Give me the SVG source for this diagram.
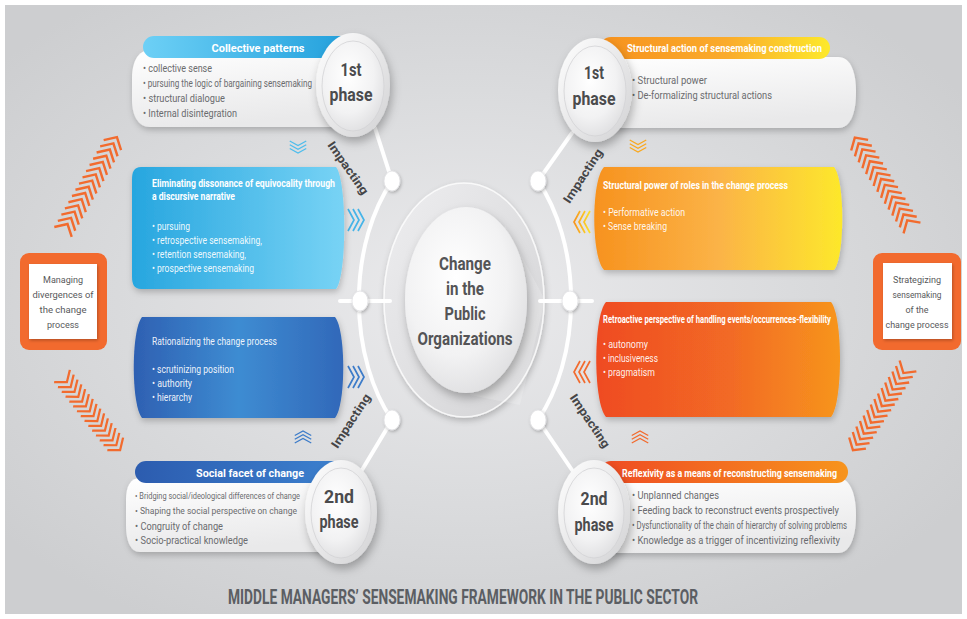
<svg xmlns="http://www.w3.org/2000/svg" width="967" height="619" viewBox="0 0 967 619">
  <defs>
    <radialGradient id="bg" cx="0.48" cy="0.48" r="0.62">
      <stop offset="0" stop-color="#ebebed"/>
      <stop offset="0.55" stop-color="#dadbdd"/>
      <stop offset="1" stop-color="#cdced0"/>
    </radialGradient>
    <linearGradient id="gCollective" x1="0" y1="0" x2="1" y2="0">
      <stop offset="0" stop-color="#6dd0f6"/>
      <stop offset="1" stop-color="#1f9edb"/>
    </linearGradient>
    <linearGradient id="gElim" x1="0" y1="0" x2="1" y2="0">
      <stop offset="0" stop-color="#27a6df"/>
      <stop offset="1" stop-color="#78d3f5"/>
    </linearGradient>
    <linearGradient id="gRat" x1="0" y1="0" x2="1" y2="0">
      <stop offset="0" stop-color="#2e60b2"/>
      <stop offset="0.5" stop-color="#3e8cd2"/>
      <stop offset="1" stop-color="#3168b9"/>
    </linearGradient>
    <linearGradient id="gSocial" x1="0" y1="0" x2="1" y2="0">
      <stop offset="0" stop-color="#2c5caf"/>
      <stop offset="1" stop-color="#3d82d0"/>
    </linearGradient>
    <linearGradient id="gStructAct" x1="0" y1="0" x2="1" y2="0">
      <stop offset="0" stop-color="#f7921e"/>
      <stop offset="0.55" stop-color="#faab2c"/>
      <stop offset="1" stop-color="#fde92b"/>
    </linearGradient>
    <linearGradient id="gStructPow" x1="0" y1="0" x2="1" y2="0">
      <stop offset="0" stop-color="#f7921e"/>
      <stop offset="0.5" stop-color="#fbb347"/>
      <stop offset="1" stop-color="#fde82b"/>
    </linearGradient>
    <linearGradient id="gRetro" x1="0" y1="0" x2="1" y2="0">
      <stop offset="0" stop-color="#ef4b23"/>
      <stop offset="0.55" stop-color="#f26a25"/>
      <stop offset="1" stop-color="#f7951d"/>
    </linearGradient>
    <linearGradient id="gReflex" x1="0" y1="0" x2="1" y2="0">
      <stop offset="0" stop-color="#ef4b23"/>
      <stop offset="1" stop-color="#f7941d"/>
    </linearGradient>
    <linearGradient id="gCard" x1="0" y1="0" x2="0.3" y2="1">
      <stop offset="0" stop-color="#ffffff"/>
      <stop offset="1" stop-color="#e9e9ea"/>
    </linearGradient>
    <radialGradient id="gDisk" cx="0.42" cy="0.38" r="0.7">
      <stop offset="0" stop-color="#ffffff"/>
      <stop offset="0.6" stop-color="#f2f2f3"/>
      <stop offset="1" stop-color="#dcdcde"/>
    </radialGradient>
    <linearGradient id="gRim" x1="0" y1="0" x2="1" y2="1">
      <stop offset="0" stop-color="#ffffff"/>
      <stop offset="1" stop-color="#d2d2d4"/>
    </linearGradient>
    <linearGradient id="gMid" x1="0" y1="0" x2="1" y2="1">
      <stop offset="0" stop-color="#eeeef0"/>
      <stop offset="1" stop-color="#d2d2d4"/>
    </linearGradient>
    <linearGradient id="gChevY" x1="0" y1="0" x2="1" y2="0">
      <stop offset="0" stop-color="#fde02b"/>
      <stop offset="1" stop-color="#f7941d"/>
    </linearGradient>
    <filter id="sh" x="-15%" y="-20%" width="130%" height="150%">
      <feDropShadow dx="1" dy="3" stdDeviation="3" flood-color="#000" flood-opacity="0.22"/>
    </filter>
    <filter id="shc" x="-40%" y="-30%" width="180%" height="170%">
      <feDropShadow dx="2" dy="5" stdDeviation="5" flood-color="#000" flood-opacity="0.28"/>
    </filter>
    <filter id="shs" x="-50%" y="-50%" width="200%" height="200%">
      <feDropShadow dx="1" dy="1.5" stdDeviation="1.5" flood-color="#000" flood-opacity="0.25"/>
    </filter>
    <!-- herringbone band, pointing along +x -->
    <path id="band" fill="none" stroke="#f26b2e" stroke-width="2.4"
      d="M0,-10L9,0L0,10M7,-10L16,0L7,10M14,-10L23,0L14,10M21,-10L30,0L21,10M28,-10L37,0L28,10M35,-10L44,0L35,10M42,-10L51,0L42,10M49,-10L58,0L49,10M56,-10L65,0L56,10M63,-10L72,0L63,10M70,-10L79,0L70,10M77,-10L86,0L77,10M84,-10L93,0L84,10M91,-10L100,0L91,10M98,-10L107,0L98,10"/>
    <!-- triple chevron, pointing along +x, centred on origin -->
    <path id="chev" fill="none" stroke-width="1.7"
      d="M-8,-11L-2,0L-8,11M-3,-11L3,0L-3,11M2,-11L8,0L2,11"/>
  </defs>
  <style>
    text { font-family: Roboto, "Liberation Sans", Arial, sans-serif; }
    .body { font-size: 10.5px; fill: #6a6b6e; }
    .sbody { font-size: 9.5px; fill: #6a6b6e; }
    .wbody { font-size: 10.5px; fill: #ffffff; fill-opacity: 0.92; }
    .title { font-size: 11.5px; font-weight: 700; fill: #ffffff; }
    .phase { font-size: 19px; font-weight: 700; fill: #4b4b4d; text-anchor: middle; }
    .center { font-size: 19px; font-weight: 700; fill: #545456; text-anchor: middle; }
    .imp { font-size: 12px; font-weight: 700; fill: #454547; text-anchor: middle; }
    .side { font-size: 9.5px; fill: #58595b; text-anchor: middle; }
    .foot { font-size: 21px; font-weight: 700; fill: #5b5e63; text-anchor: middle; }
    .card { fill: url(#gCard); filter: url(#sh); }
    .ring { fill: none; stroke: #ffffff; stroke-width: 4; stroke-linecap: round; }
    .dot { fill: #ffffff; stroke: #e2e2e4; stroke-width: 0.8; filter: url(#shs); }
  </style>

  <!-- backdrop -->
  <rect x="0" y="0" width="967" height="619" fill="#ffffff"/>
  <rect x="5" y="5" width="957" height="609" fill="url(#bg)"/>

  <!-- central hub -->
  <g id="hub">
    <ellipse cx="464" cy="300" rx="80" ry="117" fill="url(#gMid)" stroke="#ffffff" stroke-opacity="0.8" stroke-width="1.5" filter="url(#sh)"/>
    <path d="M505,225 L545,300 L520,405 L470,395 Z" fill="#ffffff" fill-opacity="0.18"/>
    <ellipse cx="466" cy="300" rx="61" ry="93" fill="url(#gDisk)" filter="url(#shc)"/>
    <text class="center" x="465" y="270" textLength="52" lengthAdjust="spacingAndGlyphs">Change</text>
    <text class="center" x="465" y="295" textLength="38" lengthAdjust="spacingAndGlyphs">in the</text>
    <text class="center" x="465" y="320" textLength="41" lengthAdjust="spacingAndGlyphs">Public</text>
    <text class="center" x="465" y="345" textLength="95" lengthAdjust="spacingAndGlyphs">Organizations</text>
  </g>

  <!-- connectors: ring arcs, spokes and joints -->
  <g id="connectors">
    <path class="ring" d="M375,128 L392,181 A105,164 0 0,0 392,420 L362,470"/>
    <path class="ring" d="M572,133 L538,181 A105,164 0 0,1 538,420 L572,470"/>
    <path class="ring" d="M340,301 H390"/>
    <path class="ring" d="M540,301 H592"/>
    <ellipse class="dot" cx="392" cy="181" rx="8" ry="10"/>
    <ellipse class="dot" cx="538" cy="181" rx="8" ry="10"/>
    <ellipse class="dot" cx="360" cy="301" rx="8" ry="10"/>
    <ellipse class="dot" cx="570" cy="301" rx="8" ry="10"/>
    <ellipse class="dot" cx="392" cy="420" rx="8" ry="10"/>
    <ellipse class="dot" cx="538" cy="420" rx="8" ry="10"/>
    <text class="imp" transform="translate(348,168) rotate(55)" y="4" textLength="62" lengthAdjust="spacingAndGlyphs">Impacting</text>
    <text class="imp" transform="translate(583,176) rotate(-57)" y="4" textLength="62" lengthAdjust="spacingAndGlyphs">Impacting</text>
    <text class="imp" transform="translate(351,421) rotate(-57)" y="4" textLength="62" lengthAdjust="spacingAndGlyphs">Impacting</text>
    <text class="imp" transform="translate(590,421) rotate(56)" y="4" textLength="62" lengthAdjust="spacingAndGlyphs">Impacting</text>

    <!-- small chevrons -->
    <use href="#chev" stroke="#4fbdec" transform="translate(298,147) rotate(90) scale(0.75)"/>
    <use href="#chev" stroke="#46b4e8" transform="translate(356,220)"/>
    <use href="#chev" stroke="#3d7cc9" transform="translate(356,377)"/>
    <use href="#chev" stroke="#3d7cc9" transform="translate(303,437) rotate(-90) scale(0.75)"/>
    <use href="#chev" stroke="#f9a81f" transform="translate(638,146) rotate(90) scale(0.75)"/>
    <use href="#chev" stroke="url(#gChevY)" transform="translate(582,222) rotate(180)"/>
    <use href="#chev" stroke="#f26b2e" transform="translate(582,372) rotate(180)"/>
    <use href="#chev" stroke="#f26b2e" transform="translate(640,437) rotate(-90) scale(0.75)"/>

    <!-- herringbone arrows -->
    <use href="#band" transform="translate(63,232) rotate(-60.4) scale(1.02,1)"/>
    <use href="#band" transform="translate(62,376) rotate(51.9) scale(0.88,1)"/>
    <use href="#band" transform="translate(912,228) rotate(-122.3)"/>
    <use href="#band" transform="translate(908,366) rotate(123.2) scale(0.94,1)"/>
  </g>

  <!-- side boxes -->
  <g id="managing-divergences">
    <rect x="20" y="253" width="87" height="97" rx="9" fill="#f26a2e"/>
    <rect x="29" y="264" width="68" height="75" fill="#ffffff" filter="url(#shs)"/>
    <text class="side" x="63" y="283" textLength="40" lengthAdjust="spacingAndGlyphs">Managing</text>
    <text class="side" x="63" y="298" textLength="61" lengthAdjust="spacingAndGlyphs">divergences of</text>
    <text class="side" x="63" y="313" textLength="47" lengthAdjust="spacingAndGlyphs">the change</text>
    <text class="side" x="63" y="328" textLength="32" lengthAdjust="spacingAndGlyphs">process</text>
  </g>
  <g id="strategizing-sensemaking">
    <rect x="873" y="253" width="88" height="97" rx="9" fill="#f26a2e"/>
    <rect x="883" y="263" width="69" height="76" fill="#ffffff" filter="url(#shs)"/>
    <text class="side" x="917" y="283" textLength="48" lengthAdjust="spacingAndGlyphs">Strategizing</text>
    <text class="side" x="917" y="298" textLength="49" lengthAdjust="spacingAndGlyphs">sensemaking</text>
    <text class="side" x="917" y="313" textLength="23" lengthAdjust="spacingAndGlyphs">of the</text>
    <text class="side" x="917" y="328" textLength="63" lengthAdjust="spacingAndGlyphs">change process</text>
  </g>

  <!-- left column -->
  <g id="collective-patterns">
    <path class="card" d="M150,50 H365 V127 H150 C138,127 132,115 132,100 V78 C132,62 138,50 150,50 Z"/>
    <rect x="143" y="36" width="215" height="22" rx="11" fill="url(#gCollective)"/>
    <text class="title" x="258" y="52" text-anchor="middle" font-size="12.5" textLength="93" lengthAdjust="spacingAndGlyphs">Collective patterns</text>
    <text class="body" x="143" y="71.5" textLength="69" lengthAdjust="spacingAndGlyphs">• collective sense</text>
    <text class="body" x="143" y="86.5" textLength="169" lengthAdjust="spacingAndGlyphs">• pursuing the logic of bargaining sensemaking</text>
    <text class="body" x="143" y="101.5" textLength="82" lengthAdjust="spacingAndGlyphs">• structural dialogue</text>
    <text class="body" x="143" y="116.5" textLength="94" lengthAdjust="spacingAndGlyphs">• Internal disintegration</text>
  </g>

  <g id="eliminating-dissonance">
    <path d="M141,167 H336 C347,180 347,276 336,289 H141 C134,289 132,284 132,277 V179 C132,172 134,167 141,167 Z" fill="url(#gElim)" filter="url(#sh)"/>
    <text class="title" x="152" y="187" font-size="11" textLength="183" lengthAdjust="spacingAndGlyphs">Eliminating dissonance of equivocality through</text>
    <text class="title" x="152" y="200" font-size="11" textLength="83" lengthAdjust="spacingAndGlyphs">a discursive narrative</text>
    <text class="wbody" x="152" y="230" textLength="38" lengthAdjust="spacingAndGlyphs">• pursuing</text>
    <text class="wbody" x="152" y="244" textLength="110" lengthAdjust="spacingAndGlyphs">• retrospective sensemaking,</text>
    <text class="wbody" x="152" y="258" textLength="94" lengthAdjust="spacingAndGlyphs">• retention sensemaking,</text>
    <text class="wbody" x="152" y="272" textLength="102" lengthAdjust="spacingAndGlyphs">• prospective sensemaking</text>
  </g>

  <g id="rationalizing">
    <path d="M142,317 H335 C346,330 346,405 335,418 H142 C131,405 131,330 142,317 Z" fill="url(#gRat)" filter="url(#sh)"/>
    <text class="wbody" x="152" y="345" textLength="125" lengthAdjust="spacingAndGlyphs">Rationalizing the change process</text>
    <text class="wbody" x="152" y="373" textLength="82" lengthAdjust="spacingAndGlyphs">• scrutinizing position</text>
    <text class="wbody" x="152" y="387" textLength="40" lengthAdjust="spacingAndGlyphs">• authority</text>
    <text class="wbody" x="152" y="401" textLength="40" lengthAdjust="spacingAndGlyphs">• hierarchy</text>
  </g>

  <g id="social-facet">
    <path class="card" d="M140,478 H360 V552 H140 C130,552 126,540 126,525 V500 C126,487 130,478 140,478 Z"/>
    <rect x="135" y="461" width="215" height="22" rx="11" fill="url(#gSocial)"/>
    <text class="title" x="250" y="476.5" text-anchor="middle" font-size="12.5" textLength="108" lengthAdjust="spacingAndGlyphs">Social facet of change</text>
    <text class="sbody" x="135" y="498.5" textLength="165" lengthAdjust="spacingAndGlyphs">• Bridging social/ideological differences of change</text>
    <text class="sbody" x="135" y="513.5" textLength="162" lengthAdjust="spacingAndGlyphs">• Shaping the social perspective on change</text>
    <text class="body" x="135" y="529.5" textLength="88" lengthAdjust="spacingAndGlyphs">• Congruity of change</text>
    <text class="body" x="135" y="543.5" textLength="113" lengthAdjust="spacingAndGlyphs">• Socio-practical knowledge</text>
  </g>

  <!-- right column -->
  <g id="structural-action">
    <path class="card" d="M585,57 H838 C852,57 856,75 856,92 C856,110 852,128 838,128 H585 Z"/>
    <rect x="600" y="37" width="230" height="22" rx="11" fill="url(#gStructAct)"/>
    <text class="title" x="627" y="52" textLength="195" lengthAdjust="spacingAndGlyphs">Structural action of sensemaking construction</text>
    <text class="body" x="632" y="84" textLength="75" lengthAdjust="spacingAndGlyphs">• Structural power</text>
    <text class="body" x="632" y="98.5" textLength="140" lengthAdjust="spacingAndGlyphs">• De-formalizing structural actions</text>
  </g>

  <g id="structural-power">
    <path d="M604,167 H834 C845,180 845,257 834,270 H604 C591,257 591,180 604,167 Z" fill="url(#gStructPow)" filter="url(#sh)"/>
    <text class="title" x="603" y="189" font-size="11" textLength="185" lengthAdjust="spacingAndGlyphs">Structural power of roles in the change process</text>
    <text class="wbody" x="603" y="216" textLength="82" lengthAdjust="spacingAndGlyphs">• Performative action</text>
    <text class="wbody" x="603" y="230" textLength="64" lengthAdjust="spacingAndGlyphs">• Sense breaking</text>
  </g>

  <g id="retroactive-perspective">
    <path d="M606,302 H831 C843,316 843,403 831,417 H606 C593,403 593,316 606,302 Z" fill="url(#gRetro)" filter="url(#sh)"/>
    <text class="title" x="603" y="323" font-size="11" textLength="228" lengthAdjust="spacingAndGlyphs">Retroactive perspective of handling events/occurrences-flexibility</text>
    <text class="wbody" x="603" y="347.5" textLength="45" lengthAdjust="spacingAndGlyphs">• autonomy</text>
    <text class="wbody" x="603" y="362" textLength="55" lengthAdjust="spacingAndGlyphs">• inclusiveness</text>
    <text class="wbody" x="603" y="376" textLength="52" lengthAdjust="spacingAndGlyphs">• pragmatism</text>
  </g>

  <g id="reflexivity">
    <path class="card" d="M585,478 H838 C851,478 856,496 856,515 C856,535 851,553 838,553 H585 Z"/>
    <rect x="600" y="461" width="248" height="22" rx="11" fill="url(#gReflex)"/>
    <text class="title" x="622" y="476.5" textLength="215" lengthAdjust="spacingAndGlyphs">Reflexivity as a means of reconstructing sensemaking</text>
    <text class="body" x="632" y="498.5" textLength="87" lengthAdjust="spacingAndGlyphs">• Unplanned changes</text>
    <text class="body" x="632" y="513.5" textLength="207" lengthAdjust="spacingAndGlyphs">• Feeding back to reconstruct events prospectively</text>
    <text class="body" x="632" y="528.5" textLength="215" lengthAdjust="spacingAndGlyphs">• Dysfunctionality of the chain of hierarchy of solving problems</text>
    <text class="body" x="632" y="543.5" textLength="208" lengthAdjust="spacingAndGlyphs">• Knowledge as a trigger of incentivizing reflexivity</text>
  </g>

  <!-- phase badges -->
  <g id="phase-1-left">
    <ellipse cx="353" cy="85" rx="37" ry="52" fill="url(#gRim)" filter="url(#shc)"/>
    <ellipse cx="353" cy="86" rx="31" ry="45" fill="url(#gDisk)" stroke="#d3d3d5" stroke-width="0.8"/>
    <text class="phase" x="351" y="76" textLength="21" lengthAdjust="spacingAndGlyphs">1st</text>
    <text class="phase" x="351" y="101" textLength="43" lengthAdjust="spacingAndGlyphs">phase</text>
  </g>
  <g id="phase-1-right">
    <ellipse cx="595" cy="90" rx="37" ry="52" fill="url(#gRim)" filter="url(#shc)"/>
    <ellipse cx="595" cy="91" rx="31" ry="45" fill="url(#gDisk)" stroke="#d3d3d5" stroke-width="0.8"/>
    <text class="phase" x="594" y="79" textLength="20" lengthAdjust="spacingAndGlyphs">1st</text>
    <text class="phase" x="594" y="105" textLength="43" lengthAdjust="spacingAndGlyphs">phase</text>
  </g>
  <g id="phase-2-left">
    <ellipse cx="341" cy="512" rx="36" ry="52" fill="url(#gRim)" filter="url(#shc)"/>
    <ellipse cx="341" cy="513" rx="30" ry="45" fill="url(#gDisk)" stroke="#d3d3d5" stroke-width="0.8"/>
    <text class="phase" x="339" y="503" textLength="30" lengthAdjust="spacingAndGlyphs">2nd</text>
    <text class="phase" x="339" y="528" textLength="39" lengthAdjust="spacingAndGlyphs">phase</text>
  </g>
  <g id="phase-2-right">
    <ellipse cx="594" cy="512" rx="36" ry="52" fill="url(#gRim)" filter="url(#shc)"/>
    <ellipse cx="594" cy="513" rx="30" ry="45" fill="url(#gDisk)" stroke="#d3d3d5" stroke-width="0.8"/>
    <text class="phase" x="594" y="505" textLength="27" lengthAdjust="spacingAndGlyphs">2nd</text>
    <text class="phase" x="594" y="531" textLength="39" lengthAdjust="spacingAndGlyphs">phase</text>
  </g>

  <!-- caption -->
  <text class="foot" x="463" y="604" textLength="470" lengthAdjust="spacingAndGlyphs">MIDDLE MANAGERS&#8217; SENSEMAKING FRAMEWORK IN THE PUBLIC SECTOR</text>
</svg>
